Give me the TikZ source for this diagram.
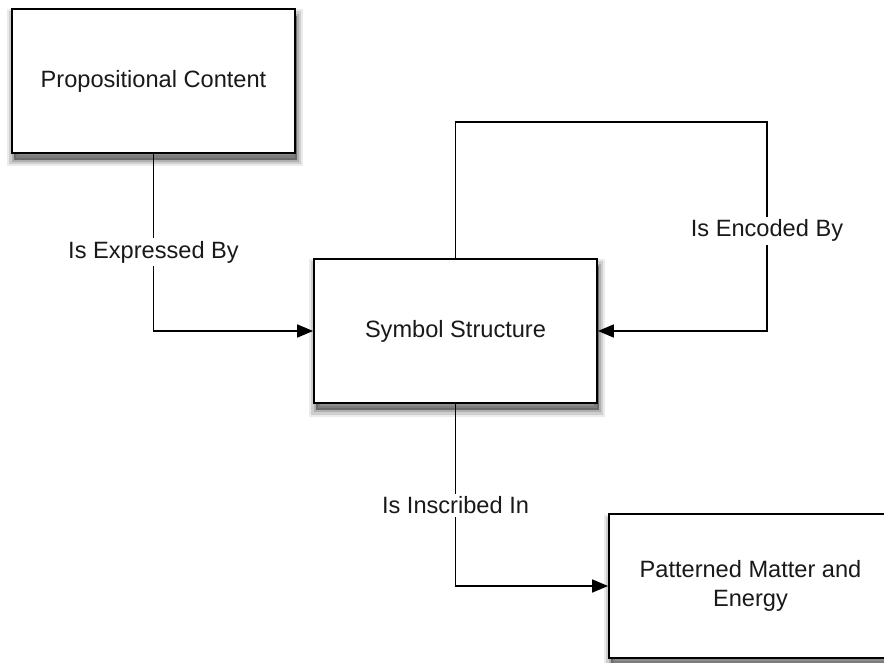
\documentclass[tikz,border=0pt]{standalone}
\usepackage{fontspec}
\setmainfont{Liberation Sans}
\usetikzlibrary{arrows.meta}
\begin{document}
\begin{tikzpicture}[x=1pt,y=-1pt,
  box/.style={draw=black, line width=1.8pt, fill=white, minimum width=283pt, minimum height=144pt,
    inner sep=0pt, align=center, text=black!90,
    font=\fontsize{23.6}{29}\selectfont,
    preaction={fill=black, draw=none, opacity=0.4, transform canvas={xshift=1.5pt,yshift=-7pt}},
    preaction={draw=black, fill=none, opacity=0.08, line width=13pt, transform canvas={xshift=1.5pt,yshift=-7pt}},
    preaction={draw=black, fill=none, opacity=0.12, line width=9pt, transform canvas={xshift=1.5pt,yshift=-7pt}},
    preaction={draw=black, fill=none, opacity=0.15, line width=4pt, transform canvas={xshift=1.5pt,yshift=-7pt}}},
  conn/.style={draw=black, line width=1.7pt, -{Triangle[length=16pt,width=13pt]}},
  lbl/.style={fill=white, inner sep=3pt, text=black!90, font=\fontsize{23.6}{29}\selectfont}]
\useasboundingbox (0,0) rectangle (884,663);
\node[box] (pc) at (153.5,81) {Propositional Content};
\node[box] (ss) at (455.5,331) {Symbol Structure};
\node[box] (pm) at (750.5,586) {Patterned Matter and\\Energy};
\coordinate (tl) at (455.5,122);
\coordinate (tr) at (767,122);
\draw[conn] (pc.south) |- node[lbl, pos=0.278] {Is Expressed By} (ss.west);
\draw[conn] (ss.north) -- (tl) -- (tr) -- node[lbl, pos=0.52] {Is Encoded By} (tr |- ss.east) -- (ss.east);
\draw[conn] (ss.south) |- node[lbl, pos=0.279] {Is Inscribed In} (pm.west);
\end{tikzpicture}
\end{document}
